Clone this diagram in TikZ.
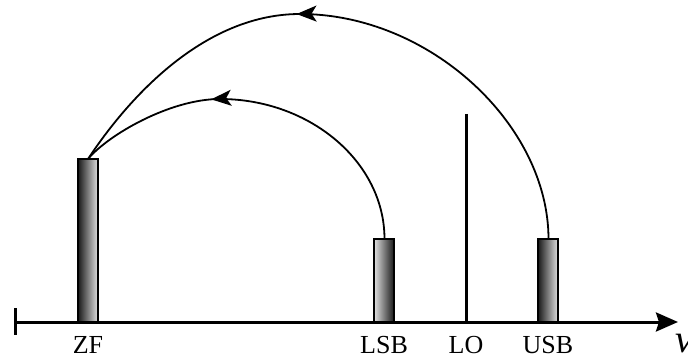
\documentclass[tikz,border=0pt]{standalone}
\usepackage{fontspec}
\setmainfont{Liberation Serif}
\usetikzlibrary{arrows.meta,decorations.markings}
\tikzset{
  bar/.style={draw=black,line width=1.5pt},
  darkleft/.style={bar,left color=black!90,right color=black!12},
  darkright/.style={bar,left color=black!12,right color=black!90},
  lbl/.style={font=\fontsize{26}{26}\selectfont,anchor=base,inner sep=0pt,text depth=0pt},
  arc/.style={line width=1.8pt,postaction={decorate},
    decoration={markings,mark=at position #1 with {\arrow{Stealth[length=20pt,width=16pt,inset=5pt]}}}},
}
\begin{document}
\begin{tikzpicture}[x=1pt,y=-1pt]
\useasboundingbox (0,0) rectangle (688,358);
% bars
\shade[darkleft] (78,159) rectangle (98,322);
\shade[darkright] (374,239) rectangle (394,322);
\shade[darkleft] (538,239) rectangle (558,322);
\coordinate (zf) at (88,159);
\coordinate (lsb) at (384.5,239);
\coordinate (usb) at (548.5,239);
\coordinate (upk) at (300,14);
\coordinate (lpk) at (220,99);
\coordinate (lotop) at (466,114);
\coordinate (lobot) at (466,322);
\coordinate (axl) at (15,322);
\coordinate (axr) at (678,322);
\coordinate (tk1) at (15,308);
\coordinate (tk2) at (15,335);
% LO line
\draw[line width=3pt] (lotop) -- (lobot);
% axis
\draw[line width=3pt,-{Stealth[length=22pt,width=19pt,inset=3pt]}] (axl) -- (axr);
\draw[line width=3pt] (tk1) -- (tk2);
% arcs
\draw[arc=0.585] (usb) .. controls (548.5,125) and (430,14) .. (upk)
  .. controls (210,14) and (135,88) .. (zf);
\draw[arc=0.64] (lsb) .. controls (384.5,162) and (310,99) .. (lpk)
  .. controls (170,99) and (108,135) .. (zf);
% labels
\node[lbl] (lzf) at (88,353) {ZF};
\node[lbl] (llsb) at (384,353) {LSB};
\node[lbl] (llo) at (466,353) {LO};
\node[lbl] (lusb) at (548,353) {USB};
\node[font=\fontsize{40}{40}\selectfont\itshape,anchor=base west] (nu) at (672,352) {ν};
\end{tikzpicture}
\end{document}
